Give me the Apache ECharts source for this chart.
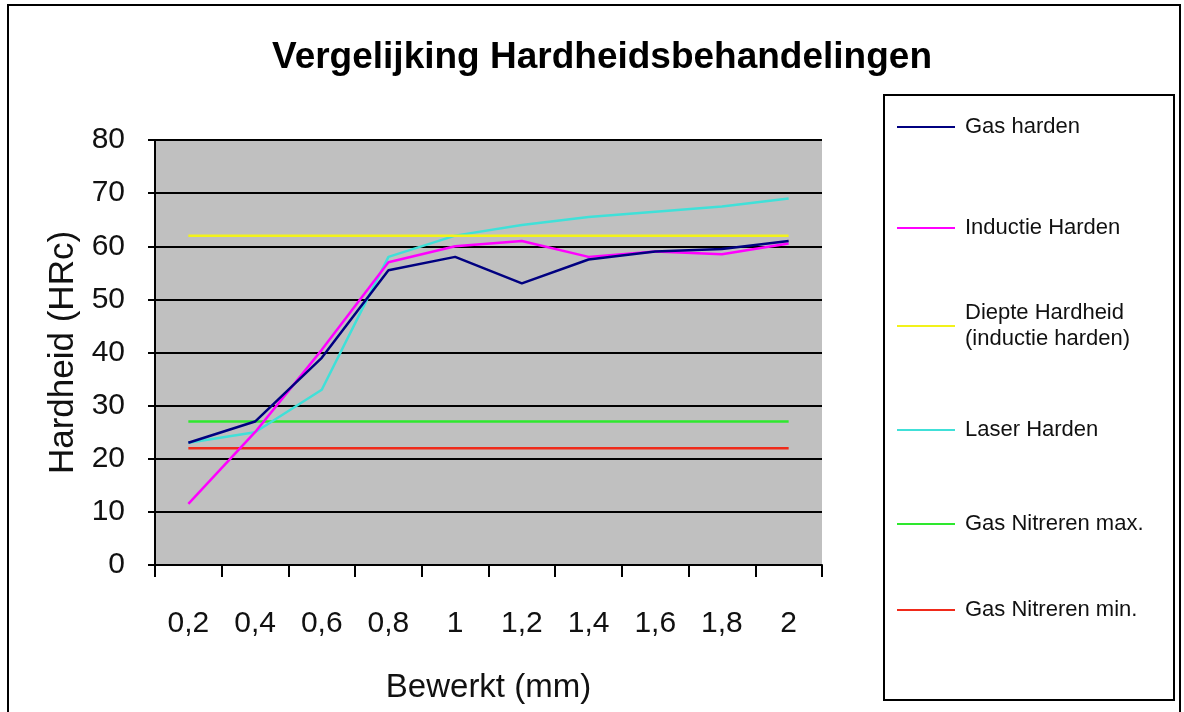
<!DOCTYPE html>
<html>
<head>
<meta charset="utf-8">
<script src="https://cdn.jsdelivr.net/npm/echarts@6/dist/echarts.min.js"></script>
<style>
html,body{margin:0;padding:0;background:#fff;}
#chart{width:1184px;height:712px;}
</style>
</head>
<body>
<div id="chart"></div>
<script>
const categories = ['0,2','0,4','0,6','0,8','1','1,2','1,4','1,6','1,8','2'];
const gasHarden = [23, 27, 39, 55.5, 58, 53, 57.5, 59, 59.5, 61];
const inductieHarden = [11.5, 25, 40.5, 57, 60, 61, 58, 59, 58.5, 60.5];
const diepteHardheid = [62, 62, 62, 62, 62, 62, 62, 62, 62, 62];
const laserHarden = [23, 25, 33, 58, 62, 64, 65.5, 66.5, 67.5, 69];
const gasNitrerenMax = [27, 27, 27, 27, 27, 27, 27, 27, 27, 27];
const gasNitrerenMin = [22, 22, 22, 22, 22, 22, 22, 22, 22, 22];
const yTicks = [0, 10, 20, 30, 40, 50, 60, 70, 80];

const names = ['Gas harden','Inductie Harden','Diepte Hardheid\n(inductie harden)','Laser Harden','Gas Nitreren max.','Gas Nitreren min.'];
const colors = ['#000080','#ff00ff','#f2f21a','#40e0d8','#2ee82e','#f02a1a'];
const datas = [gasHarden, inductieHarden, diepteHardheid, laserHarden, gasNitrerenMax, gasNitrerenMin];
const legendLineY = [127, 228, 326, 430, 524, 610];

const font = '"Liberation Sans", Arial, sans-serif';
const chart = echarts.init(document.getElementById('chart'), null, {renderer:'canvas'});

const LH = 26;
const legends = names.map((n, i) => {
  const multi = n.indexOf('\n') >= 0;
  return {
    data: [n],
    left: 897,
    top: multi ? legendLineY[i] - 1.5 * LH : legendLineY[i] - LH / 2,
    orient: 'vertical',
    icon: 'rect',
    itemWidth: 58,
    itemHeight: 2,
    padding: 0,
    selectedMode: false,
    textStyle: {fontFamily: font, fontSize: 22, color: '#111', lineHeight: LH,
      padding: multi ? [LH, 0, 0, 5] : [0, 0, 0, 5]}
  };
});

chart.setOption({
  animation: false,
  backgroundColor: '#fff',
  title: {
    text: 'Vergelijking Hardheidsbehandelingen',
    left: 597, top: 34, textAlign: 'center',
    textStyle: {fontFamily: font, fontWeight: 'bold', fontSize: 37, color: '#000'}
  },
  graphic: [
    {type:'rect', shape:{x:8, y:5, width:1172, height:720}, style:{fill:'none', stroke:'#000', lineWidth:2}, z: -1},
    {type:'rect', shape:{x:884, y:95, width:290, height:605}, style:{fill:'#fff', stroke:'#000', lineWidth:2}, z: -1}
  ],
  legend: legends,
  grid: {left: 155, right: 362, top: 140, bottom: 147, show: true, backgroundColor: '#c0c0c0', borderWidth: 0, outerBoundsMode: 'none', containLabel: false},
  xAxis: {
    type: 'category',
    data: categories,
    boundaryGap: true,
    name: 'Bewerkt (mm)',
    nameLocation: 'middle',
    nameGap: 106,
    nameTextStyle: {fontFamily: font, fontSize: 33, color: '#111'},
    axisLine: {lineStyle: {color: '#000', width: 2}},
    axisTick: {show: true, length: 12, lineStyle: {color: '#000', width: 2}},
    axisLabel: {fontFamily: font, fontSize: 30, color: '#111', margin: 44, interval: 0},
    splitLine: {show: false}
  },
  yAxis: {
    type: 'value',
    min: yTicks[0], max: yTicks[yTicks.length-1], interval: 10,
    name: 'Hardheid (HRc)',
    nameLocation: 'middle',
    nameGap: 74,
    nameRotate: 90,
    nameTextStyle: {fontFamily: font, fontSize: 35, color: '#111'},
    axisLine: {show: true, lineStyle: {color: '#000', width: 2}},
    axisTick: {show: true, length: 7, lineStyle: {color: '#000', width: 2}},
    axisLabel: {fontFamily: font, fontSize: 30, color: '#111', margin: 30},
    splitLine: {show: true, lineStyle: {color: '#000', width: 2}}
  },
  series: names.map((n, i) => ({
    name: n,
    type: 'line',
    data: datas[i],
    symbol: 'none',
    color: colors[i],
    lineStyle: {color: colors[i], width: 2.5},
    z: 10 - i
  }))
});
</script>
</body>
</html>
